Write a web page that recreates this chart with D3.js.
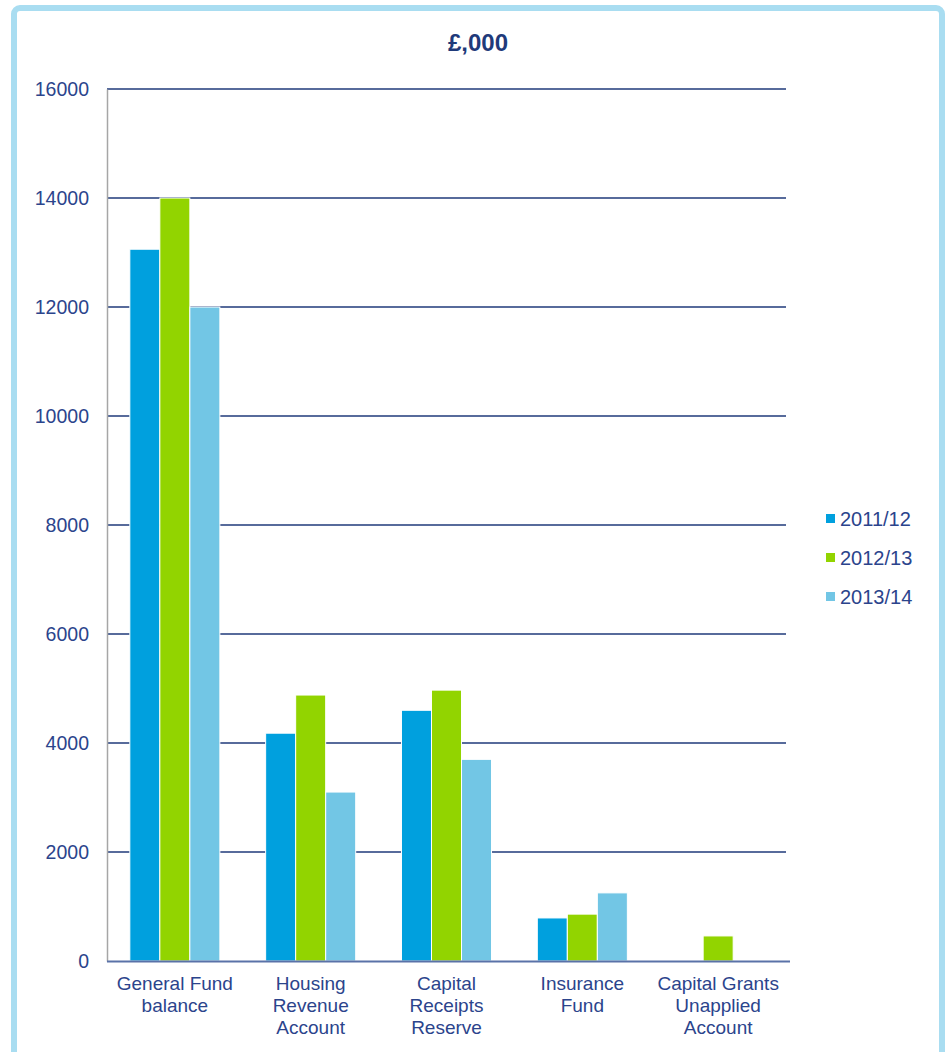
<!DOCTYPE html>
<html><head><meta charset="utf-8">
<script src="https://cdn.jsdelivr.net/npm/d3@7"></script>
<style>body{margin:0;background:#fff;}svg{display:block;}</style>
</head><body>
<svg id="c" width="948" height="1052"></svg>
<script>
const categories = [["General Fund","balance"],["Housing","Revenue","Account"],["Capital","Receipts","Reserve"],["Insurance","Fund"],["Capital Grants","Unapplied","Account"]];
const seriesNames = ["2011/12","2012/13","2013/14"];
const s2011 = [13060, 4180, 4600, 790, 0];
const s2012 = [14000, 4880, 4970, 860, 460];
const s2013 = [12000, 3100, 3700, 1250, 0];
const yTicks = [0,2000,4000,6000,8000,10000,12000,14000,16000];
const colors = ["#00A0DE","#92D400","#72C6E5"];
const seriesVals = [s2011, s2012, s2013];

const svg = d3.select("#c");
const font = "'Liberation Sans', Arial, sans-serif";
const txt = "#2B448C";

svg.append("rect").attr("x",14).attr("y",8).attr("width",928).attr("height",1060)
  .attr("rx",6).attr("fill","#fff").attr("stroke","#A9DDF1").attr("stroke-width",6);

const L=107, R=786, T=89, B=961;
const y = d3.scaleLinear().domain([0,16000]).range([B,T]);
const x = d3.scaleBand().domain(d3.range(categories.length)).range([L,R]).paddingInner(0.337).paddingOuter(0.168);
const xs = d3.scaleBand().domain(d3.range(3)).range([0,x.bandwidth()]);

svg.append("text").attr("x",478).attr("y",51).attr("text-anchor","middle")
  .attr("font-family",font).attr("font-weight","bold").attr("font-size",24).attr("fill","#1F3A7A").text("£,000");

// gridlines
svg.append("g").selectAll("line").data(yTicks.filter(d=>d>0)).join("line")
  .attr("x1",L).attr("x2",R).attr("y1",d=>y(d)).attr("y2",d=>y(d))
  .attr("stroke","#1F3A7A").attr("stroke-width",1.6);

// y axis
const ya = svg.append("g").attr("transform",`translate(${L},0)`).call(d3.axisLeft(y).tickValues(yTicks).tickSize(0).tickPadding(18).tickFormat(d3.format("d")));
ya.select(".domain").attr("stroke","#A6A6A6").attr("stroke-width",1.5);
ya.selectAll("text").attr("font-family",font).attr("font-size",19.5).attr("fill",txt).attr("dy","0.32em");

// bars
const g = svg.append("g").selectAll("g").data(categories.map((c,i)=>i)).join("g")
  .attr("transform",i=>`translate(${x(i)},0)`);
g.selectAll("rect").data(i=>seriesVals.map((s,k)=>({k,v:s[i]})).filter(d=>d.v>0)).join("rect")
  .attr("x",d=>xs(d.k)).attr("width",xs.bandwidth())
  .attr("y",d=>y(d.v)).attr("height",d=>y(0)-y(d.v))
  .attr("fill",d=>colors[d.k]).attr("stroke","#fff").attr("stroke-width",1);

// x axis line
svg.append("line").attr("x1",L).attr("x2",R+4).attr("y1",B+0.5).attr("y2",B+0.5).attr("stroke","#5A72A8").attr("stroke-width",2);

// x labels
const xl = svg.append("g").selectAll("text").data(categories).join("text")
  .attr("text-anchor","middle").attr("font-family",font).attr("font-size",19).attr("fill",txt)
  .attr("transform",(d,i)=>`translate(${x(i)+x.bandwidth()/2},990)`);
xl.selectAll("tspan").data(d=>d).join("tspan").attr("x",0).attr("dy",(d,j)=>j?22:0).text(d=>d);

// legend
const lg = svg.append("g").selectAll("g").data(seriesNames).join("g")
  .attr("transform",(d,i)=>`translate(826,${519+i*39})`);
lg.append("rect").attr("x",0).attr("y",-5).attr("width",9).attr("height",9).attr("fill",(d,i)=>colors[i]);
lg.append("text").attr("x",14).attr("y",0).attr("dy","0.35em").attr("font-family",font).attr("font-size",20).attr("fill",txt).text(d=>d);
</script>
</body></html>
